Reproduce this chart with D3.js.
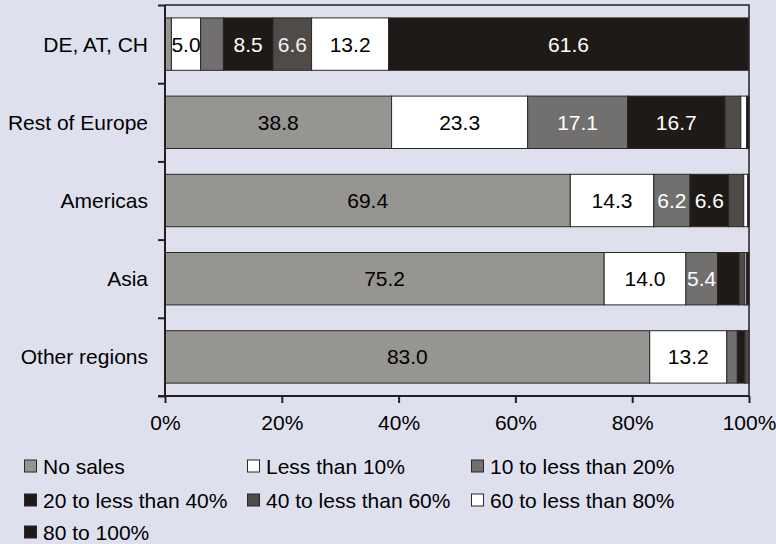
<!DOCTYPE html>
<html>
<head>
<meta charset="utf-8">
<script src="https://cdn.jsdelivr.net/npm/d3@7/dist/d3.min.js"></script>
<style>
    html, body { margin: 0; padding: 0; background: #dfe0ee; }
    svg { display: block; font-family: "Liberation Sans", Arial, sans-serif; }
</style>
</head>
<body>
<div id="chart"></div>
<script>
// Regions (bars, top to bottom) and the sales share classes (stack order, left to right)
var regions = ["DE, AT, CH", "Rest of Europe", "Americas", "Asia", "Other regions"];
var shareClasses = ["No sales", "Less than 10%", "10 to less than 20%", "20 to less than 40%",
    "40 to less than 60%", "60 to less than 80%", "80 to 100%"];

// Percent of firms per class, one array per region (same order as shareClasses)
var deAtCh = [1.1, 5.0, 3.9, 8.5, 6.6, 13.2, 61.6];
var restOfEurope = [38.8, 23.3, 17.1, 16.7, 2.7, 1.0, 0.4];
var americas = [69.4, 14.3, 6.2, 6.6, 2.6, 0.7, 0.2];
var asia = [75.2, 14.0, 5.4, 3.7, 1.0, 0.3, 0.4];
var otherRegions = [83.0, 13.2, 1.8, 1.3, 0.7, 0.0, 0.0];

var xTicks = [0, 20, 40, 60, 80, 100];

var fills = ["#979592", "#ffffff", "#72706e", "#1f1a17", "#4e4b49", "#ffffff", "#1f1a17"];
var labelColors = ["#000", "#000", "#fff", "#fff", "#f2f2f2", "#000", "#fff"];

var width = 776, height = 544;
var plot = {left: 165, right: 749, top: 5, bottom: 396};
var fontSize = 21;

var table = [deAtCh, restOfEurope, americas, asia, otherRegions].map(function (vals, i) {
    var row = {region: regions[i]};
    shareClasses.forEach(function (c, j) { row[c] = vals[j]; });
    return row;
});

var svg = d3.select("#chart").append("svg")
    .attr("width", width)
    .attr("height", height);

var x = d3.scaleLinear().domain([0, 100]).range([plot.left, plot.right]);
var y = d3.scaleBand().domain(regions).range([plot.top, plot.bottom])
    .paddingInner(0.33).paddingOuter(0.165);
// linear scale over band boundaries, used for the y tick marks
var yEdges = d3.scaleLinear().domain([0, regions.length]).range([plot.top, plot.bottom]);

var stacked = d3.stack().keys(shareClasses)(table);

// frame (top and right side)
svg.append("path")
    .attr("d", "M" + plot.left + "," + plot.top + "H" + plot.right + "V" + plot.bottom)
    .attr("fill", "none")
    .attr("stroke", "#231f20")
    .attr("stroke-width", 1.5);

var layers = svg.append("g").attr("class", "bars")
    .selectAll("g").data(stacked).enter().append("g")
    .attr("fill", function (d, i) { return fills[i]; });

layers.selectAll("rect").data(function (d) { return d; }).enter().append("rect")
    .attr("x", function (d) { return x(d[0]); })
    .attr("y", function (d) { return y(d.data.region); })
    .attr("width", function (d) { return Math.max(0, x(d[1]) - x(d[0])); })
    .attr("height", y.bandwidth())
    .attr("stroke", "#2b2726")
    .attr("stroke-width", function (d) { return d[1] - d[0] > 0 ? 1 : 0; });

// value labels, only for segments of at least 5%
var fmt = d3.format(".1f");
layers.each(function (layer, i) {
    d3.select(this).selectAll("text")
        .data(layer.filter(function (d) { return d[1] - d[0] >= 5; }))
        .enter().append("text")
        .attr("x", function (d) { return (x(d[0]) + x(d[1])) / 2; })
        .attr("y", function (d) { return y(d.data.region) + y.bandwidth() / 2; })
        .attr("dy", "0.36em")
        .attr("text-anchor", "middle")
        .attr("fill", labelColors[i])
        .attr("font-size", fontSize)
        .text(function (d) { return fmt(d[1] - d[0]); });
});

// x axis
var xAxis = d3.axisBottom(x).tickValues(xTicks).tickSize(7).tickPadding(12)
    .tickFormat(function (d) { return d + "%"; });
var gx = svg.append("g").attr("transform", "translate(0," + plot.bottom + ")").call(xAxis);
gx.select(".domain").attr("d", "M" + (plot.left - 7) + ",0H" + plot.right);

// y axis: tick marks at band edges, labels at band centres
var gy = svg.append("g").attr("transform", "translate(" + plot.left + ",0)")
    .call(d3.axisLeft(yEdges).ticks(regions.length).tickSize(7).tickFormat(""));
gy.select(".domain").attr("d", "M0," + plot.top + "V" + plot.bottom);

svg.append("g").selectAll("text").data(regions).enter().append("text")
    .attr("x", plot.left - 17)
    .attr("y", function (d) { return y(d) + y.bandwidth() / 2; })
    .attr("dy", "0.36em")
    .attr("text-anchor", "end")
    .attr("font-size", fontSize)
    .attr("fill", "#000")
    .text(function (d) { return d; });

[gx, gy].forEach(function (g) {
    g.selectAll(".domain").attr("stroke", "#231f20").attr("stroke-width", 2);
    g.selectAll(".tick line").attr("stroke", "#231f20").attr("stroke-width", 2);
    g.selectAll(".tick text").attr("font-size", fontSize).attr("fill", "#000")
        .attr("font-family", "Liberation Sans, Arial, sans-serif");
});

// legend, three columns
var legendCols = [24, 247, 471], legendRows = [466, 500, 532];
var legend = svg.append("g").attr("class", "legend")
    .selectAll("g").data(shareClasses).enter().append("g")
    .attr("transform", function (d, i) {
        return "translate(" + legendCols[i % 3] + "," + legendRows[Math.floor(i / 3)] + ")";
    });
legend.append("rect")
    .attr("x", 0.5).attr("y", -6)
    .attr("width", 12).attr("height", 12)
    .attr("fill", function (d, i) { return fills[i]; })
    .attr("stroke", "#2b2726").attr("stroke-width", 1);
legend.append("text")
    .attr("x", 19).attr("y", 0)
    .attr("dy", "0.36em")
    .attr("font-size", fontSize)
    .attr("fill", "#000")
    .text(function (d) { return d; });
</script>
</body>
</html>
